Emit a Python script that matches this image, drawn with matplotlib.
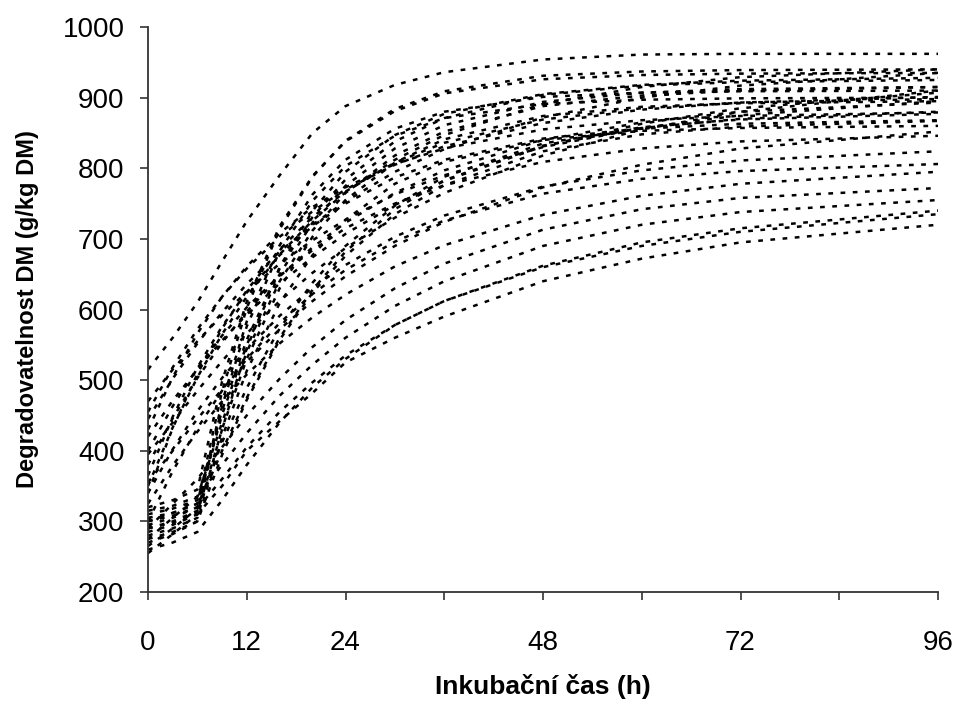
import matplotlib
matplotlib.use("Agg")
import matplotlib.pyplot as plt

hours = [0, 3, 6, 9, 12, 16, 20, 24, 30, 36, 48, 60, 72, 96]

# degradability curves (g/kg DM), one list per sample
lag_curves = [
    [300, 312, 325, 484, 602, 714, 788, 839, 884, 909, 931, 937, 939, 940],
    [290, 300, 315, 469, 583, 691, 763, 812, 856, 880, 901, 907, 909, 910],
    [310, 318, 330, 457, 557, 658, 731, 784, 838, 871, 904, 917, 922, 925],
    [280, 290, 305, 431, 530, 630, 703, 755, 808, 841, 874, 887, 892, 895],
    [295, 305, 320, 412, 489, 573, 638, 690, 747, 788, 835, 858, 869, 877],
    [270, 282, 300, 394, 472, 557, 624, 676, 735, 776, 824, 848, 859, 867],
    [320, 330, 345, 498, 611, 718, 789, 838, 881, 906, 926, 932, 934, 935],
    [305, 312, 325, 451, 550, 650, 723, 775, 828, 861, 894, 907, 912, 915],
    [285, 295, 310, 463, 576, 683, 754, 803, 846, 871, 891, 897, 899, 900],
    [275, 285, 300, 419, 513, 609, 677, 727, 778, 809, 840, 853, 857, 860],
    [315, 322, 335, 440, 540, 640, 712, 765, 818, 852, 888, 903, 910, 915],
    [300, 308, 320, 400, 475, 560, 628, 682, 742, 783, 832, 857, 870, 880],
    [290, 298, 312, 430, 545, 660, 740, 795, 847, 877, 905, 918, 924, 928],
]

gradual_curves = [
    [515, 560, 610, 668, 725, 790, 850, 888, 918, 936, 954, 961, 962, 962],
    [445, 502, 552, 596, 636, 682, 720, 753, 795, 827, 872, 900, 917, 935],
    [455, 518, 572, 618, 658, 703, 739, 770, 805, 831, 864, 883, 893, 901],
    [430, 504, 566, 618, 661, 708, 745, 773, 806, 828, 855, 868, 874, 879],
    [420, 471, 515, 556, 593, 637, 674, 707, 748, 782, 831, 863, 885, 907],
    [400, 463, 517, 563, 603, 648, 684, 715, 750, 776, 809, 828, 838, 846],
    [380, 446, 503, 553, 597, 647, 688, 723, 765, 797, 840, 865, 880, 893],
    [365, 448, 518, 576, 624, 677, 718, 750, 787, 812, 842, 856, 863, 868],
    [350, 433, 504, 565, 618, 678, 726, 766, 812, 847, 891, 915, 929, 940],
    [340, 402, 456, 503, 544, 591, 631, 663, 703, 733, 774, 797, 811, 824],
    [325, 379, 427, 470, 508, 552, 589, 621, 661, 691, 734, 761, 778, 795],
    [300, 371, 432, 485, 530, 581, 622, 656, 696, 726, 764, 785, 796, 806],
    [470, 515, 555, 592, 625, 665, 698, 727, 763, 790, 830, 857, 875, 895],
    [395, 440, 485, 527, 566, 612, 652, 687, 730, 765, 818, 855, 880, 910],
    [355, 400, 445, 487, 526, 572, 612, 647, 690, 724, 773, 805, 828, 852],
    [340, 432, 509, 573, 627, 685, 731, 767, 808, 836, 869, 885, 893, 898],
]

low_curves = [
    [255, 282, 310, 350, 400, 442, 482, 525, 560, 590, 640, 672, 695, 720],
    [265, 290, 318, 360, 405, 455, 497, 535, 578, 612, 662, 695, 715, 740],
    [275, 305, 335, 380, 425, 478, 522, 560, 605, 640, 690, 720, 738, 755],
    [290, 325, 360, 405, 450, 502, 547, 585, 630, 665, 713, 742, 758, 772],
    [260, 270, 285, 330, 380, 440, 490, 530, 578, 612, 660, 690, 710, 735],
]

x_ticks = [0, 12, 24, 36, 48, 60, 72, 84, 96]
x_tick_labels = ["0", "12", "24", "", "48", "", "72", "", "96"]
y_ticks = [200, 300, 400, 500, 600, 700, 800, 900, 1000]

plt.rcParams["font.family"] = ["Liberation Sans", "DejaVu Sans"]
plt.rcParams["lines.scale_dashes"] = False

fig = plt.figure(figsize=(9.6, 7.04), dpi=100)
ax = fig.add_axes([148 / 960, 112 / 704, 790 / 960, 565 / 704])

for curve in lag_curves + gradual_curves + low_curves:
    ax.plot(hours, curve, color="black", linewidth=1.8,
            linestyle=(0, (3.4, 5.4)))

ax.set_xlim(0, 96)
ax.set_ylim(200, 1000)
ax.set_xticks(x_ticks)
ax.set_xticklabels(x_tick_labels)
ax.set_yticks(y_ticks)

ax.spines["top"].set_visible(False)
ax.spines["right"].set_visible(False)
for side in ["left", "bottom"]:
    ax.spines[side].set_linewidth(1.3)
    ax.spines[side].set_color("#333333")

ax.tick_params(axis="x", direction="out", length=6, width=1.2,
               color="#333333", labelsize=20, pad=21)
ax.tick_params(axis="y", direction="out", length=6, width=1.2,
               color="#333333", labelsize=20, pad=11)

ax.set_xlabel("Inkubační čas (h)", fontsize=19, fontweight="bold")
ax.set_ylabel("Degradovatelnost DM (g/kg DM)", fontsize=17,
              fontweight="bold")
ax.xaxis.set_label_coords(0.5, -0.145)
ax.yaxis.set_label_coords(-0.138, 0.5)

fig.savefig("out.png", dpi=100)
plt.close(fig)
